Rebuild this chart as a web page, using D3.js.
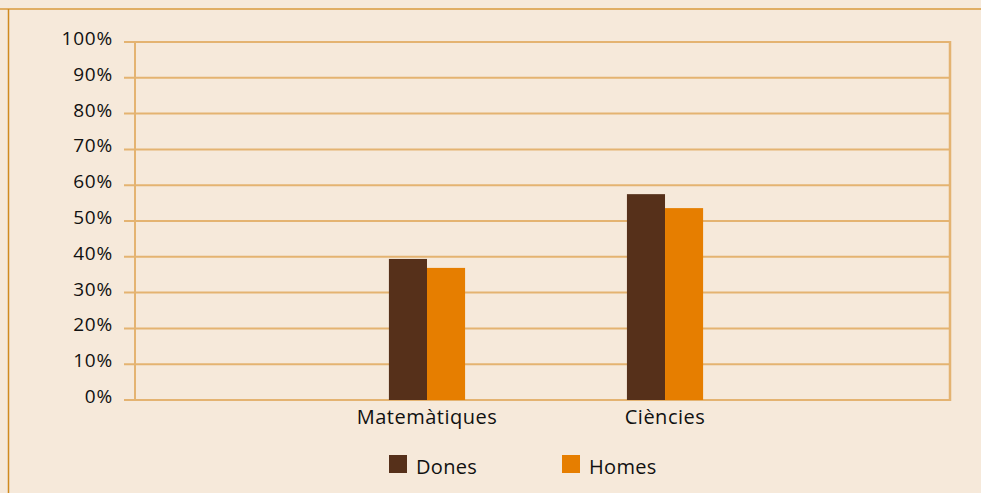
<!DOCTYPE html>
<html>
<head>
<meta charset="utf-8">
<script src="https://cdn.jsdelivr.net/npm/d3@7"></script>
<style>
  html, body { margin: 0; padding: 0; background: #f6e9da; }
  svg { display: block; font-family: "Open Sans", "Noto Sans", sans-serif; }
</style>
</head>
<body>
<svg id="chart" width="981" height="493"></svg>
<script>
const categories = ["Matemàtiques", "Ciències"];
const seriesNames = ["Dones", "Homes"];
const dones = [39.4, 57.5];
const homes = [36.9, 53.6];
const yTicks = [0, 10, 20, 30, 40, 50, 60, 70, 80, 90, 100];
const colors = ["#56301a", "#e67e00"];

const width = 981, height = 493;
const margin = { top: 42, right: 31, bottom: 93, left: 135 };
const gridColor = "#e4b371";
const textColor = "#111";

const svg = d3.select("#chart");

// outer frame (only top and left visible in the crop)
svg.append("line")
  .attr("x1", 0).attr("x2", width).attr("y1", 9).attr("y2", 9)
  .attr("stroke", "#d89a3c").attr("stroke-width", 1.5);
svg.append("line")
  .attr("x1", 8.5).attr("x2", 8.5).attr("y1", 9).attr("y2", height)
  .attr("stroke", "#d08a20").attr("stroke-width", 1.5);

const x0 = d3.scaleBand()
  .domain(categories)
  .range([margin.left, width - margin.right])
  .paddingInner(0.68)
  .paddingOuter(1.052)
  .align(0.507);

const x1 = d3.scaleBand()
  .domain(seriesNames)
  .range([0, x0.bandwidth()]);

const y = d3.scaleLinear()
  .domain([0, 100])
  .range([height - margin.bottom, margin.top]);

// gridlines (with small ticks sticking out on the left)
svg.append("g")
  .selectAll("line")
  .data(yTicks)
  .join("line")
  .attr("x1", margin.left - 11)
  .attr("x2", width - margin.right)
  .attr("y1", d => y(d))
  .attr("y2", d => y(d))
  .attr("stroke", gridColor)
  .attr("stroke-width", 2);

// left axis line + right frame
svg.append("line")
  .attr("x1", margin.left).attr("x2", margin.left)
  .attr("y1", y(100)).attr("y2", y(0))
  .attr("stroke", gridColor).attr("stroke-width", 2);
svg.append("line")
  .attr("x1", width - margin.right).attr("x2", width - margin.right)
  .attr("y1", y(100) - 1).attr("y2", y(0) + 1)
  .attr("stroke", gridColor).attr("stroke-width", 2.5);

// y labels
svg.append("g")
  .selectAll("text")
  .data(yTicks)
  .join("text")
  .attr("x", 113)
  .attr("y", d => y(d) + 3)
  .attr("text-anchor", "end")
  .attr("font-size", 19)
  .attr("letter-spacing", 0.8)
  .attr("fill", textColor)
  .text(d => d + "%");

// bars
const rows = categories.map((c, i) => ({ cat: c, values: [dones[i], homes[i]] }));
svg.append("g")
  .selectAll("g")
  .data(rows)
  .join("g")
  .attr("transform", d => `translate(${x0(d.cat)},0)`)
  .selectAll("rect")
  .data(d => d.values.map((v, j) => ({ key: seriesNames[j], value: v, color: colors[j] })))
  .join("rect")
  .attr("x", d => x1(d.key))
  .attr("width", x1.bandwidth())
  .attr("y", d => y(d.value))
  .attr("height", d => y(0) - y(d.value))
  .attr("fill", d => d.color);

// category labels
svg.append("g")
  .selectAll("text")
  .data(categories)
  .join("text")
  .attr("x", d => x0(d) + x0.bandwidth() / 2)
  .attr("y", y(0) + 24)
  .attr("text-anchor", "middle")
  .attr("font-size", 20)
  .attr("letter-spacing", 0.5)
  .attr("fill", textColor)
  .text(d => d);

// legend
const legendX = [389, 562];
const legend = svg.append("g")
  .selectAll("g")
  .data(seriesNames)
  .join("g")
  .attr("transform", (d, i) => `translate(${legendX[i]},455)`);
legend.append("rect")
  .attr("width", 18).attr("height", 18)
  .attr("fill", (d, i) => colors[i]);
legend.append("text")
  .attr("x", 27).attr("y", 19)
  .attr("font-size", 20)
  .attr("letter-spacing", 0.3)
  .attr("fill", textColor)
  .text(d => d);
</script>
</body>
</html>
